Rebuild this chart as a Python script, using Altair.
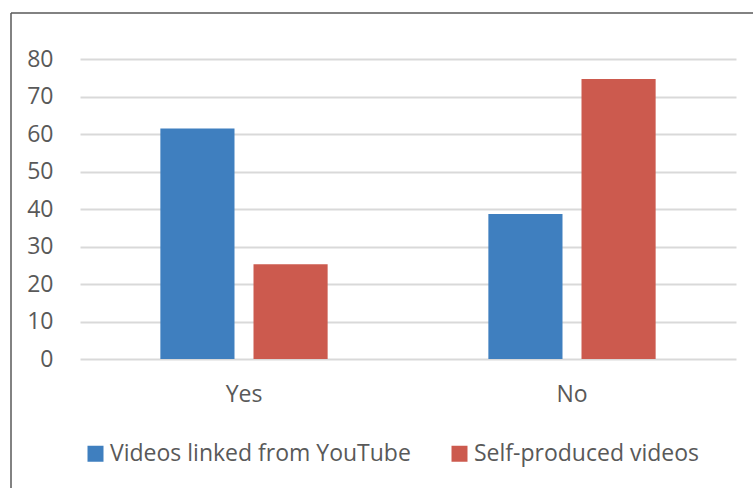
import altair as alt
import pandas as pd

categories = ["Yes", "No"]
series_names = ["Videos linked from YouTube", "Self-produced videos"]
youtube_values = [61.5, 38.7]
self_values = [25.3, 74.7]
series_colors = ["#3F7FBF", "#CC5A4E"]

rows = []
for i, c in enumerate(categories):
    rows.append({"answer": c, "series": series_names[0], "value": youtube_values[i]})
    rows.append({"answer": c, "series": series_names[1], "value": self_values[i]})
df = pd.DataFrame(rows)

FONT = "Open Sans"
TXT = "#595959"
FS = 23

bars = alt.Chart(df).mark_bar().encode(
    x=alt.X("answer:N", sort=categories, title=None,
            scale=alt.Scale(paddingInner=0.49, paddingOuter=0.245),
            axis=alt.Axis(labelAngle=0, domain=False, ticks=False, labelPadding=24,
                          labelFontSize=FS, labelColor=TXT, labelFont=FONT)),
    xOffset=alt.XOffset("series:N", sort=series_names,
                        scale=alt.Scale(paddingInner=0.204, paddingOuter=0)),
    y=alt.Y("value:Q", title=None,
            scale=alt.Scale(domain=[0, 80]),
            axis=alt.Axis(values=list(range(0, 81, 10)), domain=False, ticks=False,
                          labelPadding=27, labelFontSize=FS, labelColor=TXT, labelFont=FONT,
                          grid=True, gridColor="#D9D9D9", gridWidth=2)),
    color=alt.Color("series:N", sort=series_names,
                    scale=alt.Scale(domain=series_names, range=series_colors),
                    legend=alt.Legend(title=None, orient="none", legendX=4, legendY=383,
                                      direction="horizontal", symbolType="square",
                                      symbolSize=256, symbolStrokeWidth=0, labelOffset=3,
                                      columnPadding=37, labelFontSize=FS, labelColor=TXT,
                                      labelFont=FONT, labelLimit=400)),
)

frame_df = pd.DataFrame({"k": [0]})
top_rule = alt.Chart(frame_df).mark_rule(color="#595959", strokeWidth=1.5).encode(
    x=alt.value(-69), x2=alt.value(700), y=alt.value(-46))
left_rule = alt.Chart(frame_df).mark_rule(color="#595959", strokeWidth=1.5).encode(
    x=alt.value(-69), y=alt.value(-46), y2=alt.value(460))

chart = alt.layer(bars, top_rule, left_rule).properties(
    width=656, height=300,
    autosize=alt.AutoSizeParams(type="none"),
    padding={"left": 80, "top": 59, "right": 17, "bottom": 129},
).configure_view(stroke=None)

chart.save("out.html", embed_options={"renderer": "svg", "actions": False})
